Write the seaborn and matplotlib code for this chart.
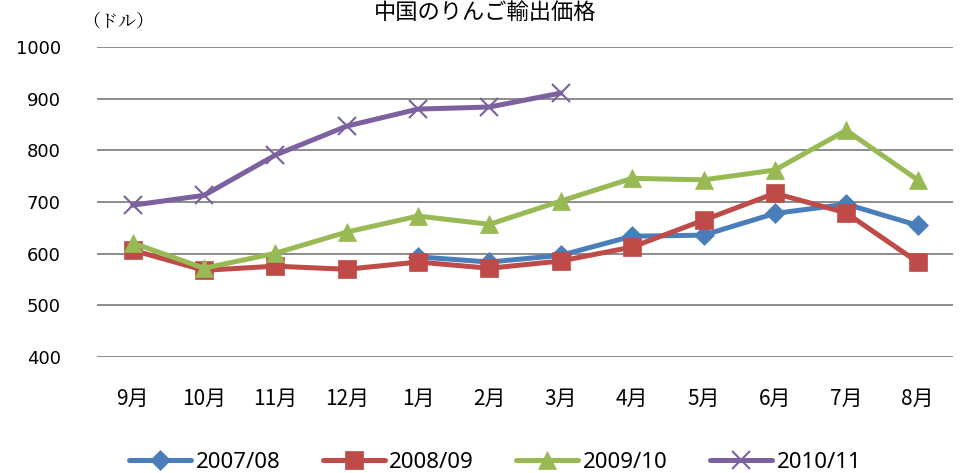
import pandas as pd
import numpy as np
import seaborn as sns
import matplotlib.pyplot as plt

months = ['9月', '10月', '11月', '12月', '1月', '2月', '3月', '4月', '5月', '6月', '7月', '8月']
series_names = ['2007/08', '2008/09', '2009/10', '2010/11']

# 月別の輸出価格（ドル）
price_0708 = [np.nan, np.nan, np.nan, np.nan, 594, 584, 597, 634, 636, 678, 696, 655]
price_0809 = [607, 568, 576, 570, 584, 572, 586, 613, 665, 717, 679, 584]
price_0910 = [621, 572, 601, 642, 673, 657, 702, 746, 743, 762, 839, 743]
price_1011 = [694, 713, 791, 847, 880, 884, 911, np.nan, np.nan, np.nan, np.nan, np.nan]

colors = ['#4A7EBB', '#BE4B48', '#98B954', '#7D60A0']
markers = ['D', 's', '^', 'x']
msizes = [10, 13, 13, 13]


def main():
    sns.set_style('white')
    plt.rcParams['font.family'] = ['Noto Sans CJK JP', 'DejaVu Sans']
    plt.rcParams['text.color'] = 'black'

    rows = []
    for name, vals in zip(series_names, [price_0708, price_0809, price_0910, price_1011]):
        for i, v in enumerate(vals):
            rows.append({'pos': i, 'price': v, 'year': name})
    df = pd.DataFrame(rows).dropna()

    fig = plt.figure(figsize=(9.6, 4.73), dpi=100)
    ax = fig.add_axes([0.101, 0.245, 0.892, 0.6555])

    for name, c, m, ms in zip(series_names, colors, markers, msizes):
        d = df[df.year == name]
        sns.lineplot(data=d, x='pos', y='price', ax=ax, color=c, marker=m,
                     markersize=ms, linewidth=3.6, label=name,
                     markeredgecolor=c, markeredgewidth=1.5 if m == 'x' else 0.5)

    ax.set_xlim(-0.5, 11.5)
    ax.set_ylim(400, 1000)
    ax.set_yticks(range(400, 1001, 100))
    ax.set_xticks(range(len(months)))
    ax.set_xticklabels(months)
    ax.grid(axis='y', color='#8c8c8c', linewidth=1.4)
    ax.set_axisbelow(True)
    for s in ax.spines.values():
        s.set_visible(False)
    ax.tick_params(axis='y', length=0, pad=26, labelsize=13, labelcolor='black')
    ax.tick_params(axis='x', length=0, pad=22, labelsize=15, labelcolor='black')
    for t in ax.get_yticklabels():
        t.set_family('DejaVu Sans')
    ax.set_xlabel('')
    ax.set_ylabel('')

    fig.text(0.505, 0.999, '中国のりんご輸出価格', ha='center', va='top', fontsize=16)
    fig.text(0.086, 0.955, '（ドル）', ha='left', va='center', fontsize=13,
             family=['Noto Serif CJK JP', 'Noto Sans CJK JP'])

    ax.legend(loc='center', bbox_to_anchor=(0.465, -0.34), ncol=4, frameon=False,
              handlelength=2.8, columnspacing=1.9, handletextpad=0.2,
              prop={'family': 'Noto Sans', 'size': 16})

    fig.savefig('out.png', dpi=100)


if __name__ == "__main__":
    main()
